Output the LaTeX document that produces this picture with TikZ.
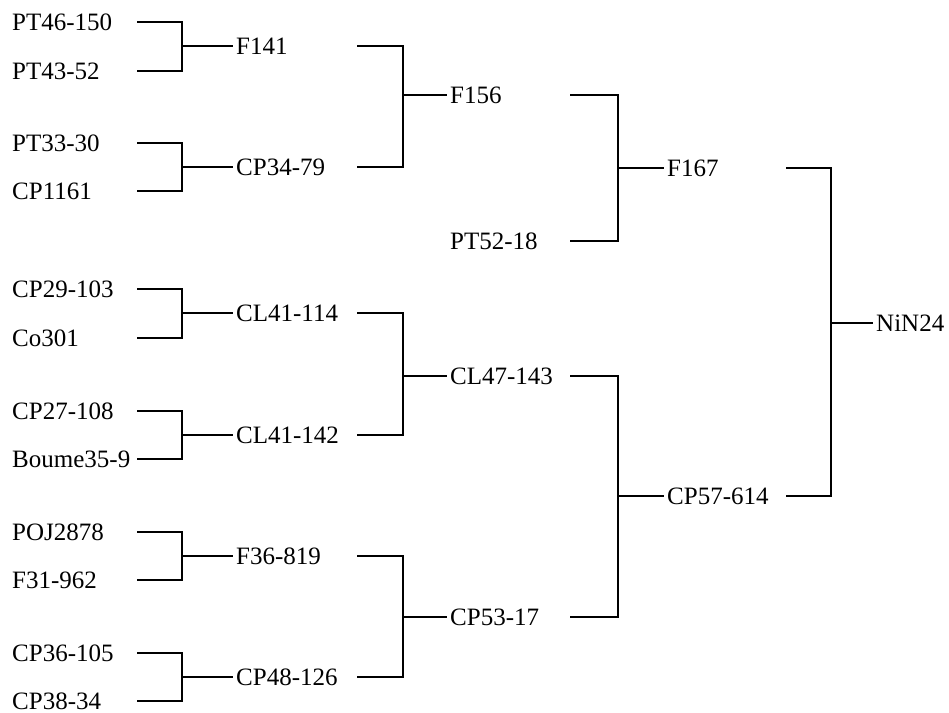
\documentclass[tikz,border=0pt]{standalone}
\usepackage{fontspec}
\setmainfont{Liberation Serif}
\begin{document}
\begin{tikzpicture}[x=1pt,y=-1pt,
  lbl/.style={anchor=west,inner sep=0pt,text height=16pt,text depth=0pt,
    font=\fontsize{25}{28}\selectfont},
  conn/.style={line width=1.7pt,line join=miter}]
\useasboundingbox (0,0) rectangle (949,712);
% column coordinates
\coordinate (c0) at (137,0); \coordinate (j0) at (182,0);
\coordinate (c1) at (357,0); \coordinate (j1) at (403,0);
\coordinate (c2) at (570,0); \coordinate (j2) at (618,0);
\coordinate (c3) at (786,0); \coordinate (j3) at (831,0);
% leaves
\node[lbl] (l1)  at (12,22)  {PT46-150};
\node[lbl] (l2)  at (12,71)  {PT43-52};
\node[lbl] (l3)  at (12,143) {PT33-30};
\node[lbl] (l4)  at (12,191) {CP1161};
\node[lbl] (l5)  at (12,289) {CP29-103};
\node[lbl] (l6)  at (12,338) {Co301};
\node[lbl] (l7)  at (12,411) {CP27-108};
\node[lbl] (l8)  at (12,459) {Boume35-9};
\node[lbl] (l9)  at (12,532) {POJ2878};
\node[lbl] (l10) at (12,580) {F31-962};
\node[lbl] (l11) at (12,653) {CP36-105};
\node[lbl] (l12) at (12,701) {CP38-34};
% level 1
\node[lbl] (m1) at (236,46)  {F141};
\node[lbl] (m2) at (236,167) {CP34-79};
\node[lbl] (m3) at (236,313) {CL41-114};
\node[lbl] (m4) at (236,435) {CL41-142};
\node[lbl] (m5) at (236,556) {F36-819};
\node[lbl] (m6) at (236,677) {CP48-126};
% level 2
\node[lbl] (n1) at (450,95)  {F156};
\node[lbl] (n2) at (450,241) {PT52-18};
\node[lbl] (n3) at (450,376) {CL47-143};
\node[lbl] (n4) at (450,617) {CP53-17};
% level 3
\node[lbl] (o1) at (667,168) {F167};
\node[lbl] (o2) at (667,496) {CP57-614};
% root
\node[lbl] (r) at (876,323) {NiN24};
% connectors
\newcommand{\bracketpair}[5]{%
  \draw[conn] (#1 -| #4) -| (#3 -| #5) |- (#2 -| #4);
  \draw[conn] (#3 -| #5) -- ([xshift=-3pt]#3.west);}
\bracketpair{l1}{l2}{m1}{c0}{j0}
\bracketpair{l3}{l4}{m2}{c0}{j0}
\bracketpair{l5}{l6}{m3}{c0}{j0}
\bracketpair{l7}{l8}{m4}{c0}{j0}
\bracketpair{l9}{l10}{m5}{c0}{j0}
\bracketpair{l11}{l12}{m6}{c0}{j0}
\bracketpair{m1}{m2}{n1}{c1}{j1}
\bracketpair{m3}{m4}{n3}{c1}{j1}
\bracketpair{m5}{m6}{n4}{c1}{j1}
\bracketpair{n1}{n2}{o1}{c2}{j2}
\bracketpair{n3}{n4}{o2}{c2}{j2}
\bracketpair{o1}{o2}{r}{c3}{j3}
\end{tikzpicture}
\end{document}
